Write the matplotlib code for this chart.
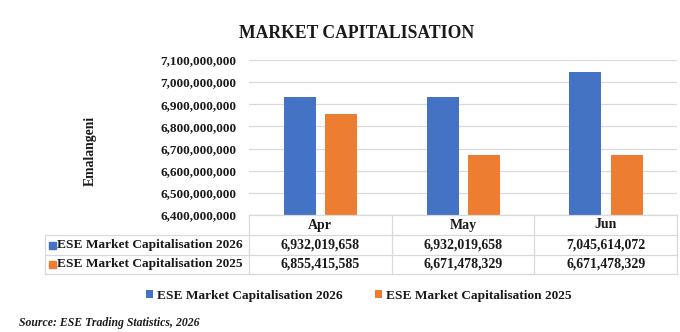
import matplotlib.pyplot as plt
import numpy as np
from matplotlib import transforms
from matplotlib.lines import Line2D
from matplotlib.patches import Rectangle

months = ["Apr", "May", "Jun"]
series_names = ["ESE Market Capitalisation 2026", "ESE Market Capitalisation 2025"]
cap_2026 = [6932019658, 6932019658, 7045614072]
cap_2025 = [6855415585, 6671478329, 6671478329]
yticks = [6.4e9, 6.5e9, 6.6e9, 6.7e9, 6.8e9, 6.9e9, 7.0e9, 7.1e9]

BLUE = "#4472C4"
ORANGE = "#ED7D31"
GRID = "#D9D9D9"
TXT = "#1a1a1a"
W, H = 680, 332

plt.rcParams["font.family"] = ["Liberation Serif", "DejaVu Serif"]
plt.rcParams["font.weight"] = "bold"
plt.rcParams["text.color"] = TXT


def fx(x):
    return x / W


def fy(y):
    return 1 - y / H


fig = plt.figure(figsize=(W / 100, H / 100), dpi=100)
ax = fig.add_axes([fx(249), fy(215), (677 - 249) / W, (215 - 60) / H])

x = np.arange(len(months))
bw = 0.224
ax.bar(x - 0.142, cap_2026, bw, color=BLUE, label=series_names[0], zorder=3)
ax.bar(x + 0.148, cap_2025, bw, color=ORANGE, label=series_names[1], zorder=3)

ax.set_xlim(-0.5, len(months) - 0.5)
ax.set_ylim(yticks[0], yticks[-1])
ax.set_yticks(yticks)
ax.set_yticklabels([f"{int(v):,}" for v in yticks], fontsize=9.5, fontweight="bold", color=TXT)
ax.set_xticks([])
ax.tick_params(axis="y", length=0, pad=9)
ax.grid(axis="y", color=GRID, linewidth=0.9, zorder=0)
for s in ax.spines.values():
    s.set_visible(False)

fig.text(fx(357), fy(33), "MARKET CAPITALISATION", ha="center", va="center",
         fontsize=12.7, fontweight="bold")
fig.text(fx(90), fy(151), "Emalangeni", rotation=90, ha="center", va="center",
         fontsize=9.8, fontweight="bold")

# data table below the axis
bt = transforms.blended_transform_factory(ax.transData, fig.transFigure)
rows_y = [215, 235, 255, 274]
left_edge, right_edge = 45, 677
lw = 0.9
fig.add_artist(Line2D([fx(249), fx(right_edge)], [fy(rows_y[0])] * 2, color=GRID, lw=lw))
for yy in rows_y[1:]:
    fig.add_artist(Line2D([fx(left_edge), fx(right_edge)], [fy(yy)] * 2, color=GRID, lw=lw))
fig.add_artist(Line2D([fx(left_edge)] * 2, [fy(rows_y[1]), fy(rows_y[3])], color=GRID, lw=lw))
for edge in np.arange(len(months) + 1) - 0.5:
    ax.add_artist(Line2D([edge, edge], [fy(rows_y[0]), fy(rows_y[3])], color=GRID, lw=lw,
                         transform=bt, clip_on=False))

for i, m in enumerate(months):
    fig.text(i, fy((rows_y[0] + rows_y[1]) / 2), m, transform=bt, ha="center", va="center",
             fontsize=10, fontweight="bold")
    for r, vals in enumerate([cap_2026, cap_2025]):
        fig.text(i, fy((rows_y[r + 1] + rows_y[r + 2]) / 2), f"{vals[i]:,}", transform=bt,
                 ha="center", va="center", fontsize=10, fontweight="bold")

for r, (name, col) in enumerate(zip(series_names, [BLUE, ORANGE])):
    yc = (rows_y[r + 1] + rows_y[r + 2]) / 2
    fig.add_artist(Rectangle((fx(49), fy(yc + 3.5)), 7 / W, 7 / H, color=col,
                             transform=fig.transFigure))
    fig.text(fx(57), fy(yc), name, ha="left", va="center", fontsize=9.6, fontweight="bold")

handles, labels = ax.get_legend_handles_labels()
fig.legend(handles, labels, loc="center", bbox_to_anchor=(fx(359), fy(296)), ncol=2,
           frameon=False, handlelength=0.55, handleheight=0.55,
           handletextpad=0.3, columnspacing=2.4, prop={"weight": "bold", "size": 9.6})

fig.text(fx(19), fy(323), "Source: ESE Trading Statistics, 2026", ha="left", va="center",
         fontsize=8.5, fontweight="bold", fontstyle="italic")

fig.savefig("out.png", dpi=100)
